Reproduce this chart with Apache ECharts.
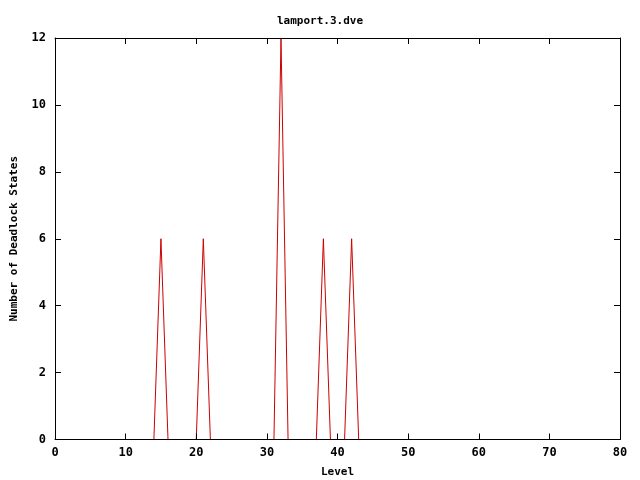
<!DOCTYPE html>
<html><head><meta charset="utf-8">
<script src="https://cdn.jsdelivr.net/npm/echarts@6/dist/echarts.min.js"></script>
<style>html,body{margin:0;padding:0;background:#fff}#c{width:640px;height:480px}</style>
</head><body><div id="c"></div>
<script>
var levels = [];
for (var i = 0; i <= 50; i++) levels.push(i);
var deadlocks = [0,0,0,0,0,0,0,0,0,0, 0,0,0,0,0,6,0,0,0,0, 0,6,0,0,0,0,0,0,0,0, 0,0,12,0,0,0,0,0,6,0, 0,0,6,0,0,0,0,0,0,0, 0];
var xTicks = [0,10,20,30,40,50,60,70,80];
var yTicks = [0,2,4,6,8,10,12];

var font = 'DejaVu Sans Mono';
var chart = echarts.init(document.getElementById('c'));
var axisCommon = {
  zlevel: 1,
  axisLine: {show: true, onZero: false, lineStyle: {color: '#000', width: 1}},
  axisTick: {show: true, inside: true, length: 6, lineStyle: {color: '#000'}},
  splitLine: {show: false}
};
var lbl = {fontFamily: font, fontSize: 12, fontWeight: 'bold', color: '#000'};
chart.setOption({
  animation: false,
  backgroundColor: '#fff',
  title: {text: 'lamport.3.dve', left: 'center', top: 11,
    textStyle: {fontFamily: font, fontSize: 11, fontWeight: 'bold', color: '#000'}},
  grid: {left: 55, right: 20, top: 38, bottom: 40.5, outerBoundsMode: 'none', containLabel: false},
  xAxis: [Object.assign({type: 'value', min: 0, max: 80, interval: 10, position: 'bottom',
    name: 'Level', nameLocation: 'middle', nameGap: 27,
    nameTextStyle: {fontFamily: font, fontSize: 11, fontWeight: 'bold', color: '#000'},
    axisLabel: Object.assign({margin: 7,
      formatter: function(v){ return xTicks.indexOf(v) >= 0 ? String(v) : ''; }}, lbl)}, axisCommon),
    Object.assign({type: 'value', min: 0, max: 80, interval: 10, position: 'top',
    axisLabel: {show: false}}, axisCommon)],
  yAxis: [Object.assign({type: 'value', min: 0, max: 12, interval: 2, position: 'left',
    name: 'Number of Deadlock States', nameLocation: 'middle', nameGap: 35, nameRotate: 90,
    nameTextStyle: {fontFamily: font, fontSize: 11, fontWeight: 'bold', color: '#000'},
    axisLabel: Object.assign({margin: 9,
      formatter: function(v){ return yTicks.indexOf(v) >= 0 ? String(v) : ''; }}, lbl)}, axisCommon),
    Object.assign({type: 'value', min: 0, max: 12, interval: 2, position: 'right',
    axisLabel: {show: false}}, axisCommon)],
  series: [{
    type: 'line',
    data: levels.map(function(l, i){ return [l, deadlocks[i]]; }),
    showSymbol: false,
    lineStyle: {color: '#cc0000', width: 1},
    z: 1
  }]
});
</script></body></html>
